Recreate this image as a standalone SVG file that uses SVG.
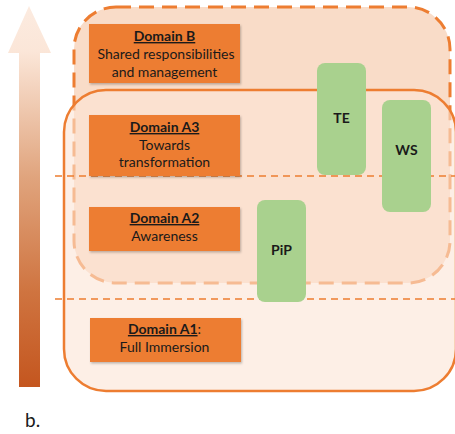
<svg xmlns="http://www.w3.org/2000/svg" width="455" height="434" viewBox="0 0 455 434">
<defs>
<linearGradient id="arrowGrad" x1="0" y1="0" x2="0" y2="1">
<stop offset="0" stop-color="#fcebe0"/>
<stop offset="0.12" stop-color="#fbe6d8"/>
<stop offset="0.45" stop-color="#e0a47d"/>
<stop offset="0.75" stop-color="#cf7440"/>
<stop offset="1" stop-color="#c4561f"/>
</linearGradient>
<filter id="shadow" x="-10%" y="-20%" width="125%" height="150%">
<feDropShadow dx="1" dy="1.5" stdDeviation="1" flood-color="#000" flood-opacity="0.25"/>
</filter>
<style>
.dom{fill:#ed7d31;filter:url(#shadow)}
.grn{fill:#a9d18e}
.t{font-family:Lato,"Liberation Sans",sans-serif;font-size:14px;fill:#1a1a1a;text-anchor:middle}
.b{font-weight:bold}
.u{text-decoration:underline}
.hd{fill:none;stroke:#ed7d31;stroke-width:1.6;stroke-dasharray:7 5}
</style>
</defs>

<!-- vertical gradient arrow -->
<g id="arrow">
<path d="M19 387 L19 53 L8 53 L29 6 L51 53 L40 53 L40 387 Z" fill="url(#arrowGrad)"/>
</g>

<!-- containers -->
<g id="domainB-region">
<rect x="74" y="7" width="376" height="276" rx="42" ry="42" fill="#f9dcc8" stroke="#ed7d31" stroke-width="3" stroke-dasharray="15 8"/>
</g>
<g id="domainA-region">
<rect x="64" y="90" width="392" height="301" rx="42" ry="42" fill="#fbe4d5" fill-opacity="0.6" stroke="none"/>
<rect x="64" y="90" width="392" height="301" rx="42" ry="42" fill="none" stroke="#ed7d31" stroke-width="2.5"/>
</g>

<!-- dashed level lines -->
<g id="connectors">
<line class="hd" x1="55" y1="176" x2="455" y2="176"/>
<line class="hd" x1="55" y1="299" x2="455" y2="299"/>
</g>

<!-- domain boxes -->
<g id="domainB">
<rect class="dom" x="89" y="24" width="151" height="59"/>
<text class="t" x="164.5" y="41"><tspan class="b u">Domain B</tspan></text>
<text class="t" x="166" y="59">Shared responsibilities</text>
<text class="t" x="164.5" y="77">and management</text>
</g>
<g id="domainA3">
<rect class="dom" x="89" y="115" width="151" height="61"/>
<text class="t" x="164.5" y="132"><tspan class="b u">Domain A3</tspan></text>
<text class="t" x="164.5" y="150">Towards</text>
<text class="t" x="164.5" y="167">transformation</text>
</g>
<g id="domainA2">
<rect class="dom" x="89" y="207" width="151" height="44"/>
<text class="t" x="164.5" y="223"><tspan class="b u">Domain A2</tspan></text>
<text class="t" x="164.5" y="241">Awareness</text>
</g>
<g id="domainA1">
<rect class="dom" x="90" y="318" width="151" height="44"/>
<text class="t" x="164.5" y="334"><tspan class="b u">Domain A1</tspan>:</text>
<text class="t" x="164.5" y="352">Full Immersion</text>
</g>

<!-- green boxes -->
<g id="TE">
<rect class="grn" x="317" y="63" width="49" height="112" rx="8"/>
<text class="t b" x="341.5" y="123">TE</text>
</g>
<g id="WS">
<rect class="grn" x="382" y="100" width="49" height="112" rx="8"/>
<text class="t b" x="406.5" y="155">WS</text>
</g>
<g id="PiP">
<rect class="grn" x="257" y="200" width="49" height="102" rx="8"/>
<text class="t b" x="281.5" y="255">PiP</text>
</g>

<text x="25" y="427" style="font-family:Lato,'Liberation Sans',sans-serif;font-size:19px;fill:#1a1a1a">b.</text>
</svg>
